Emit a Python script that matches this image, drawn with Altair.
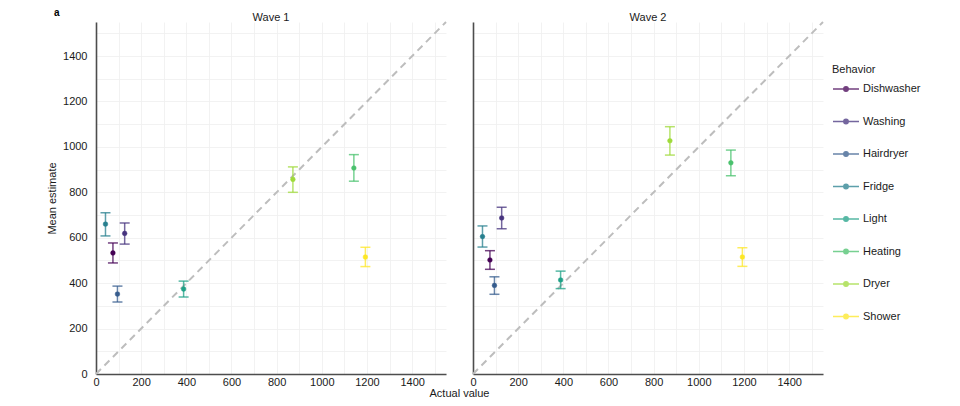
import altair as alt
import pandas as pd

# ---- data ----
behaviors = ["Dishwasher", "Washing", "Hairdryer", "Fridge", "Light", "Heating", "Dryer", "Shower"]
colors = ["#440154", "#46337E", "#365C8D", "#277F8E", "#1FA187", "#4AC16D", "#9FDA3A", "#FDE725"]
actual = [75, 127, 95, 42, 388, 1142, 872, 1193]

w1_mean = [533, 619, 352, 660, 374, 907, 857, 515]
w1_lo = [489, 572, 317, 608, 339, 849, 800, 473]
w1_hi = [577, 665, 387, 710, 409, 966, 912, 558]

w2_mean = [502, 687, 390, 605, 414, 930, 1027, 515]
w2_lo = [461, 640, 351, 559, 376, 873, 964, 474]
w2_hi = [543, 734, 428, 652, 453, 986, 1089, 556]

waves = ["Wave 1", "Wave 2"]
axis_max = 1550
grid_values = list(range(0, 1501, 100))
diag = [0, 1550]
panel_letter = ["a"]
x_title = ["Actual value"]
y_title = "Mean estimate"

FONT = "Liberation Sans"
TXT = "#1a1a1a"
W, H = 350, 352

label_expr = "datum.value % 200 === 0 ? '' + datum.value : ''"
xs = alt.Scale(domain=[0, axis_max], nice=False, zero=True)
ys = alt.Scale(domain=[0, axis_max], nice=False, zero=True)


def x_axis():
    return alt.Axis(values=grid_values, labelExpr=label_expr, grid=True, gridColor="#EFEFEF",
                    gridWidth=0.8, ticks=False, domainColor="#4D4D4D", domainWidth=1.6,
                    labelFont=FONT, labelFontSize=11, labelColor=TXT, labelPadding=2,
                    labelFlush=False, labelOverlap=False, title=None)


def y_axis(first):
    if first:
        return alt.Axis(values=grid_values, labelExpr=label_expr, grid=True, gridColor="#EFEFEF",
                        gridWidth=0.8, ticks=False, domainColor="#4D4D4D", domainWidth=1.6,
                        labelFont=FONT, labelFontSize=11, labelColor=TXT, labelPadding=9,
                        labelFlush=False, labelOverlap=False, title=y_title, titleFont=FONT,
                        titleFontSize=11, titleFontWeight="normal", titleColor=TXT,
                        titleX=-44, titleY=H / 2, titleAngle=270, titleAlign="center",
                        titleBaseline="middle")
    return alt.Axis(values=grid_values, labels=False, grid=True, gridColor="#EFEFEF",
                    gridWidth=0.8, ticks=False, domainColor="#4D4D4D", domainWidth=1.6,
                    title=None)


legend_path = "M-1,0H1M-0.17,0A0.17,0.17,0,1,1,0.17,0A0.17,0.17,0,1,1,-0.17,0Z"
legend = alt.Legend(title="Behavior", symbolType=legend_path, symbolSize=676,
                    symbolStrokeWidth=1.5, orient="none", legendX=736, legendY=42,
                    labelFont=FONT, labelFontSize=11, labelColor=TXT, titleFont=FONT,
                    titleFontSize=11, titleFontWeight="normal", titleColor=TXT,
                    rowPadding=12.5, labelOffset=3, titlePadding=0)
cscale = alt.Scale(domain=behaviors, range=colors)


def panel(wave, mean, lo, hi, first):
    df = pd.DataFrame({"Behavior": behaviors, "actual": actual, "mean": mean, "lo": lo, "hi": hi})
    ddf = pd.DataFrame({"actual": diag, "mean": diag})
    X = alt.X("actual:Q", scale=xs, axis=x_axis())
    base = alt.Chart(df)
    diag_l = alt.Chart(ddf).mark_line(color="#BDBDBD", strokeDash=[7, 5], strokeWidth=2).encode(
        x=X, y=alt.Y("mean:Q", scale=ys, axis=y_axis(first)))
    rules = base.mark_rule(strokeWidth=1.5, opacity=0.75).encode(
        x=X, y=alt.Y("lo:Q", scale=ys, axis=y_axis(first)), y2="hi:Q",
        stroke=alt.Stroke("Behavior:N", scale=cscale, legend=legend))
    cap_lo = base.mark_tick(orient="horizontal", size=10, thickness=1.5, opacity=0.75).encode(
        x=X, y=alt.Y("lo:Q", scale=ys, axis=y_axis(first)),
        fill=alt.Fill("Behavior:N", scale=cscale, legend=legend))
    cap_hi = base.mark_tick(orient="horizontal", size=10, thickness=1.5, opacity=0.75).encode(
        x=X, y=alt.Y("hi:Q", scale=ys, axis=y_axis(first)),
        fill=alt.Fill("Behavior:N", scale=cscale, legend=legend))
    pts = base.mark_point(filled=True, size=22, opacity=1, strokeWidth=0.5).encode(
        x=X, y=alt.Y("mean:Q", scale=ys, axis=y_axis(first)),
        fill=alt.Fill("Behavior:N", scale=cscale, legend=legend),
        stroke=alt.Stroke("Behavior:N", scale=cscale, legend=legend))
    title_txt = alt.Chart(pd.DataFrame({"t": [wave]})).mark_text(
        font=FONT, fontSize=11, align="center", baseline="alphabetic", color=TXT
    ).encode(text="t:N", x=alt.value(W / 2), y=alt.value(-1))
    layers = [diag_l, rules, cap_lo, cap_hi, pts, title_txt]
    if first:
        a_txt = alt.Chart(pd.DataFrame({"t": panel_letter})).mark_text(
            font=FONT, fontSize=10, fontWeight="bold", align="left", baseline="top", color="#000"
        ).encode(text="t:N", x=alt.value(-42), y=alt.value(-14))
        xt = alt.Chart(pd.DataFrame({"t": x_title})).mark_text(
            font=FONT, fontSize=11, align="center", baseline="middle", color=TXT
        ).encode(text="t:N", x=alt.value(W + 13.5), y=alt.value(H + 20))
        layers += [a_txt, xt]
    return alt.layer(*layers).properties(width=W, height=H)


p1 = panel(waves[0], w1_mean, w1_lo, w1_hi, True)
p2 = panel(waves[1], w2_mean, w2_lo, w2_hi, False)

chart = alt.hconcat(p1, p2, spacing=27, bounds="flush").properties(
    padding={"left": 38, "top": 0, "right": 5, "bottom": 5}
).configure_view(stroke=None).resolve_scale(fill="shared", stroke="shared")

chart.save("out.html", embed_options={"renderer": "svg", "actions": False})
